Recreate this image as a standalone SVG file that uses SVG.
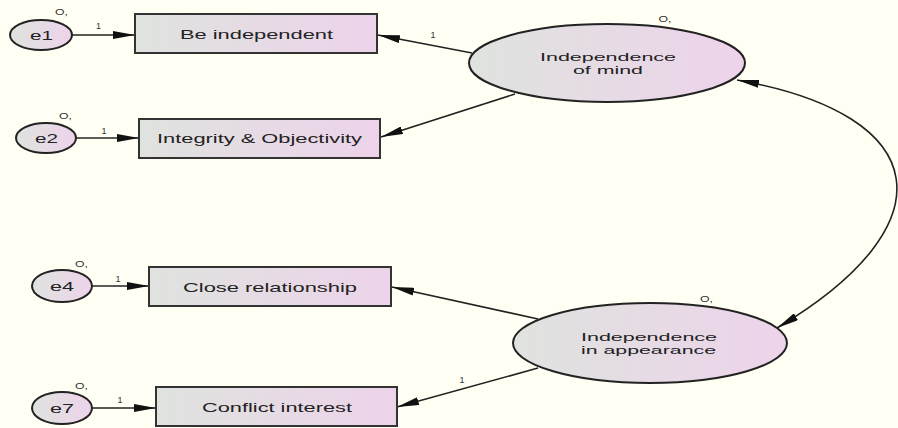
<svg xmlns="http://www.w3.org/2000/svg" width="898" height="428" viewBox="0 0 898 428">
<defs>
<linearGradient id="fillg" x1="0" y1="0" x2="1" y2="0">
<stop offset="0" stop-color="#dfe3df"/>
<stop offset="1" stop-color="#edd3ea"/>
</linearGradient>
<marker id="ah" viewBox="0 0 22 8" refX="22" refY="4" markerWidth="22" markerHeight="8" markerUnits="userSpaceOnUse" orient="auto-start-reverse">
<path d="M0,0 L22,4 L0,8 Z" fill="#111"/>
</marker>
<style>
.box{fill:url(#fillg);stroke:#333;stroke-width:2}
.ell{fill:url(#fillg);stroke:#222;stroke-width:2}
.lbl{font-family:"Liberation Sans",Arial,sans-serif;font-size:13px;fill:#222;text-anchor:middle}
.lbl2{font-family:"Liberation Sans",Arial,sans-serif;font-size:11px;fill:#222;text-anchor:middle}
.sm{font-family:"Liberation Sans",Arial,sans-serif;font-size:9px;fill:#333;text-anchor:middle}
.con{fill:none;stroke:#222;stroke-width:1.6}
</style>
</defs>
<rect x="0" y="0" width="898" height="428" fill="#fffff3"/>

<g id="connectors">
<line class="con" x1="72" y1="35" x2="135" y2="35" marker-end="url(#ah)"/>
<line class="con" x1="76" y1="138" x2="139" y2="138" marker-end="url(#ah)"/>
<line class="con" x1="92" y1="286" x2="149" y2="286" marker-end="url(#ah)"/>
<line class="con" x1="92" y1="408" x2="156" y2="408" marker-end="url(#ah)"/>
<line class="con" x1="472" y1="53" x2="378" y2="35" marker-end="url(#ah)"/>
<line class="con" x1="515" y1="94" x2="381" y2="137" marker-end="url(#ah)"/>
<line class="con" x1="538" y1="319" x2="392" y2="287" marker-end="url(#ah)"/>
<line class="con" x1="538" y1="368" x2="397" y2="407" marker-end="url(#ah)"/>
<path class="con" d="M737,80 C935,115 950,225 777,328" marker-start="url(#ah)" marker-end="url(#ah)"/>
<text class="sm" x="98.5" y="29">1</text>
<text class="sm" x="104" y="134">1</text>
<text class="sm" x="118" y="282">1</text>
<text class="sm" x="120" y="403">1</text>
<text class="sm" x="433" y="38">1</text>
<text class="sm" x="462" y="383">1</text>
</g>

<g id="e1">
<ellipse class="ell" cx="41" cy="35" rx="31" ry="15"/>
<text class="lbl" x="41.5" y="40" textLength="23" lengthAdjust="spacingAndGlyphs">e1</text>
<text class="sm" x="61.5" y="15" textLength="13" lengthAdjust="spacingAndGlyphs">O,</text>
</g>
<g id="e2">
<ellipse class="ell" cx="46" cy="138" rx="30" ry="15"/>
<text class="lbl" x="46.5" y="143" textLength="23" lengthAdjust="spacingAndGlyphs">e2</text>
<text class="sm" x="65.5" y="119" textLength="13" lengthAdjust="spacingAndGlyphs">O,</text>
</g>
<g id="e4">
<ellipse class="ell" cx="62" cy="286" rx="30" ry="16"/>
<text class="lbl" x="62" y="291" textLength="24" lengthAdjust="spacingAndGlyphs">e4</text>
<text class="sm" x="81.5" y="267" textLength="13" lengthAdjust="spacingAndGlyphs">O,</text>
</g>
<g id="e7">
<ellipse class="ell" cx="62" cy="408" rx="30" ry="16"/>
<text class="lbl" x="62" y="413" textLength="24" lengthAdjust="spacingAndGlyphs">e7</text>
<text class="sm" x="81.5" y="389" textLength="13" lengthAdjust="spacingAndGlyphs">O,</text>
</g>

<g id="be_independent">
<rect class="box" x="135" y="14" width="242" height="39"/>
<text class="lbl" x="256.5" y="39" textLength="153" lengthAdjust="spacingAndGlyphs">Be independent</text>
</g>
<g id="integrity">
<rect class="box" x="139" y="119" width="241" height="39"/>
<text class="lbl" x="259.5" y="143" textLength="205" lengthAdjust="spacingAndGlyphs">Integrity &amp; Objectivity</text>
</g>
<g id="close_relationship">
<rect class="box" x="149" y="267" width="242" height="39"/>
<text class="lbl" x="270" y="292" textLength="174" lengthAdjust="spacingAndGlyphs">Close relationship</text>
</g>
<g id="conflict_interest">
<rect class="box" x="156" y="387" width="241" height="39"/>
<text class="lbl" x="277" y="412" textLength="150" lengthAdjust="spacingAndGlyphs">Conflict interest</text>
</g>

<g id="independence_mind">
<ellipse class="ell" cx="607" cy="63" rx="138" ry="39"/>
<text class="lbl2" x="608" y="61" textLength="136" lengthAdjust="spacingAndGlyphs">Independence</text>
<text class="lbl2" x="608" y="74" textLength="70" lengthAdjust="spacingAndGlyphs">of mind</text>
<text class="sm" x="665" y="22" textLength="13" lengthAdjust="spacingAndGlyphs">O,</text>
</g>
<g id="independence_appearance">
<ellipse class="ell" cx="650" cy="343" rx="137" ry="40"/>
<text class="lbl2" x="649" y="341" textLength="136" lengthAdjust="spacingAndGlyphs">Independence</text>
<text class="lbl2" x="648.5" y="354" textLength="135" lengthAdjust="spacingAndGlyphs">in appearance</text>
<text class="sm" x="706.5" y="302" textLength="13" lengthAdjust="spacingAndGlyphs">O,</text>
</g>
</svg>
